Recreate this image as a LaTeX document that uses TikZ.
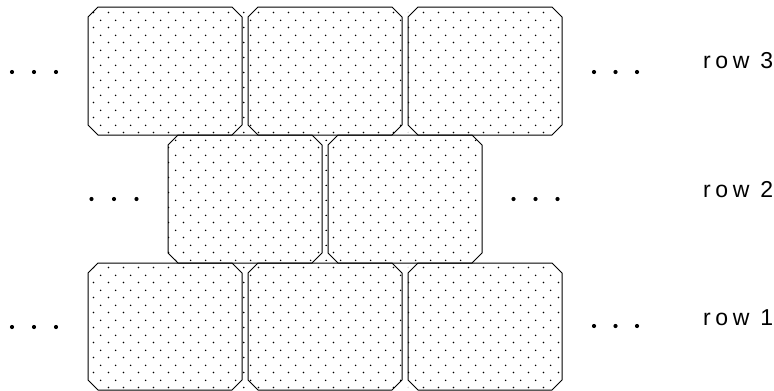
\documentclass[tikz,border=0pt]{standalone}
\usepackage{fontspec}
\setmainfont{Liberation Sans}
\newfontfamily\labelfont[LetterSpace=20]{Liberation Sans}
\usetikzlibrary{patterns}
\pgfdeclarepatternformonly{brickdots}{\pgfpointorigin}{\pgfpoint{15pt}{15pt}}{\pgfpoint{15pt}{15pt}}{%
  \pgfpathcircle{\pgfpoint{3.75pt}{3.75pt}}{0.9pt}%
  \pgfpathcircle{\pgfpoint{11.25pt}{11.25pt}}{0.9pt}%
  \pgfusepath{fill}}
\newcommand{\brickat}[4]{%
  \fill[pattern=brickdots] (#1+10,#2) -- (#3-10,#2) -- (#3,#2+10) -- (#3,#4-10) -- (#3-10,#4) -- (#1+10,#4) -- (#1,#4-10) -- (#1,#2+10) -- cycle;
  \draw[brickline] (#1+10,#2) -- (#3-10,#2) -- (#3,#2+10) -- (#3,#4-10) -- (#3-10,#4) -- (#1+10,#4) -- (#1,#4-10) -- (#1,#2+10) -- cycle;}
\newcommand{\gapat}[4]{\fill[pattern=brickdots] (#1,#2) rectangle (#3,#4);}
\newcommand{\ellip}[3]{\fill (#1,#3) circle (2.1); \fill (#1+#2,#3) circle (2.1); \fill (#1+2*#2,#3) circle (2.1);}
\tikzset{brickline/.style={line width=1pt, line join=miter},
  rowlabel/.style={anchor=base west, inner sep=0pt, font=\labelfont\fontsize{23}{27}\selectfont}}
\begin{document}
\begin{tikzpicture}[x=1pt,y=-1pt]
\useasboundingbox (0,0) rectangle (774,391);
% gaps
\gapat{242}{7}{248}{135}
\gapat{402}{7}{408}{135}
\gapat{322}{135}{328}{263}
\gapat{242}{263}{248}{390}
\gapat{402}{263}{408}{390}
% row 3
\brickat{88}{7}{242}{135}
\brickat{248}{7}{402}{135}
\brickat{408}{7}{562}{135}
% row 2
\brickat{168}{135}{322}{263}
\brickat{328}{135}{482}{263}
% row 1
\brickat{88}{263}{242}{390}
\brickat{248}{263}{402}{390}
\brickat{408}{263}{562}{390}
% ellipses
\ellip{12}{22}{72}
\ellip{594}{21.5}{72}
\ellip{91.5}{22.5}{199}
\ellip{513.5}{22}{199}
\ellip{12}{22}{327}
\ellip{594}{21.5}{326}
% labels
\node[rowlabel] (r3) at (703,68) {row 3};
\node[rowlabel] (r2) at (703,197) {row 2};
\node[rowlabel] (r1) at (703,325) {row 1};
\end{tikzpicture}
\end{document}
